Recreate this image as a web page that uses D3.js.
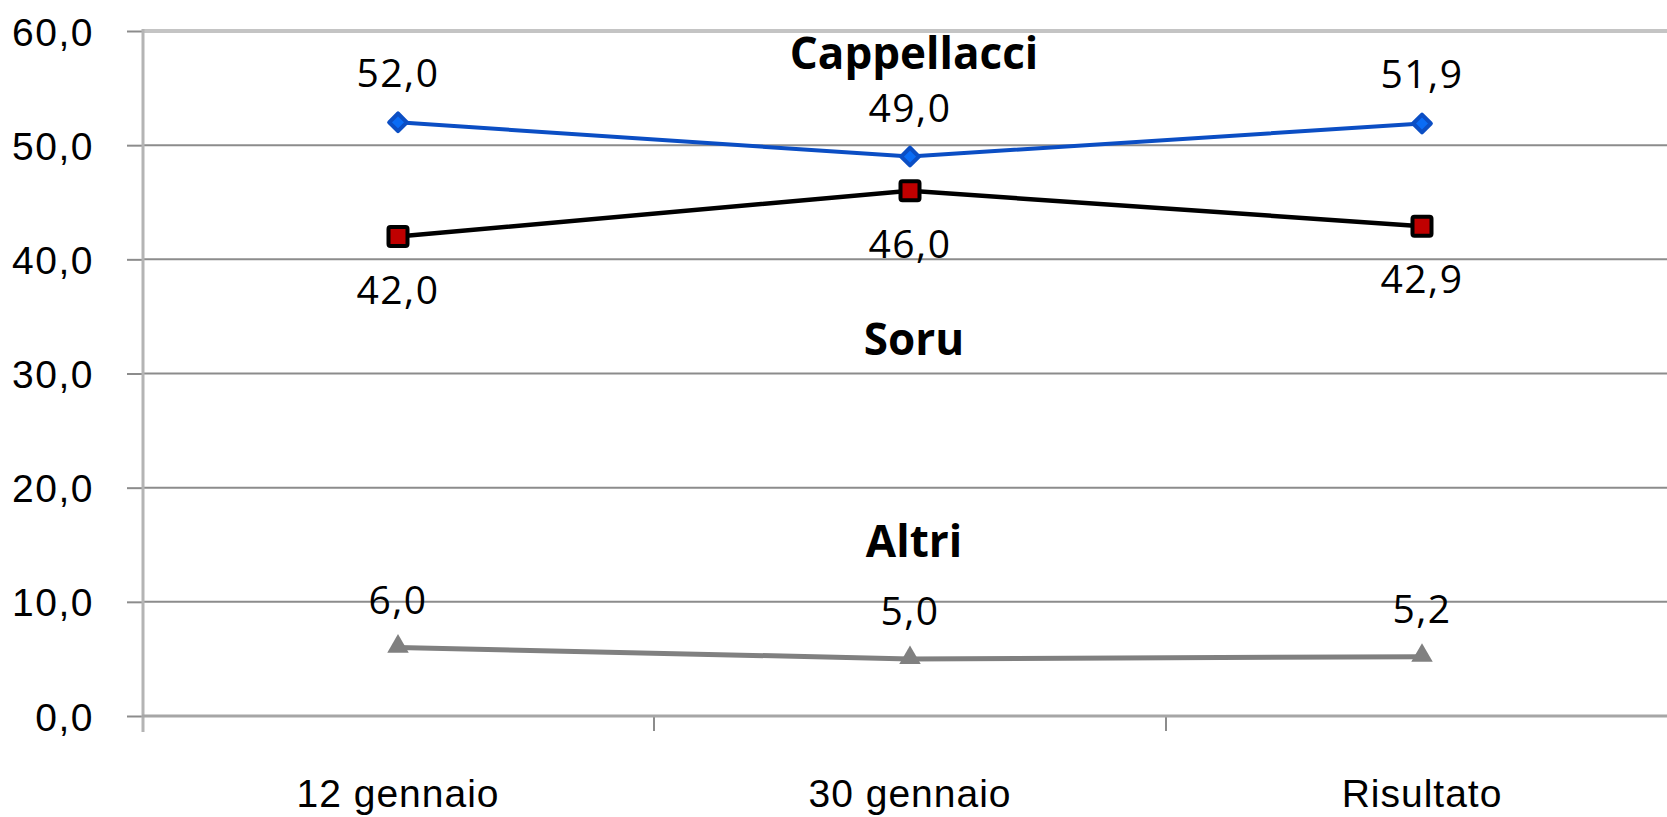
<!DOCTYPE html>
<html>
<head>
<meta charset="utf-8">
<script src="https://cdn.jsdelivr.net/npm/d3@7"></script>
<style>
  body { margin: 0; background: #fff; }
  #chart-container { width: 1667px; height: 817px; overflow: hidden; }
</style>
</head>
<body>
<div id="chart-container"></div>
<script>
// data
const categories = ["12 gennaio", "30 gennaio", "Risultato"];
const cappellacci = [52.0, 49.0, 51.9];
const soru = [42.0, 46.0, 42.9];
const altri = [6.0, 5.0, 5.2];
const yTicks = [0, 10, 20, 30, 40, 50, 60];
const seriesNames = ["Cappellacci", "Soru", "Altri"];
const nameLevels = [56.7, 31.6, 13.9]; // where the series name sits, in axis units

const W = 1667, H = 817;
const fmt = v => d3.format(".1f")(v).replace(".", ",");

const svg = d3.select("#chart-container")
  .append("svg")
  .attr("width", W)
  .attr("height", H)
  .style("font-family", "'Open Sans', sans-serif");

// plot area runs past the right edge, like the original
const xScale = d3.scaleBand()
  .domain(categories)
  .range([142, 1678])
  .padding(0);

const yScale = d3.scaleLinear().domain([0, 60]).range([716, 31]);

const cx = d => xScale(d) + xScale.bandwidth() / 2;

// gridlines
svg.append("g")
  .selectAll("line")
  .data(yTicks.filter(t => t > 0))
  .join("line")
  .attr("x1", 142)
  .attr("x2", W)
  .attr("y1", d => yScale(d))
  .attr("y2", d => yScale(d))
  .attr("stroke", d => d == 60 ? "#c4c4c4" : "#8c8c8c")
  .attr("stroke-width", d => d == 60 ? 4 : 2);

// y axis
const yAxis = d3.axisLeft(yScale).tickValues(yTicks).tickSize(15).tickPadding(33).tickFormat(fmt);
const gy = svg.append("g").attr("transform", "translate(142,0)").call(yAxis);
gy.select(".domain").remove();
gy.selectAll(".tick line").attr("stroke", "#8c8c8c").attr("stroke-width", 2);
gy.selectAll(".tick text")
  .style("font-size", "39px")
  .style("letter-spacing", "1.5px")
  .attr("dy", "0.36em")
  .attr("fill", "#000");
svg.append("line")
  .attr("x1", 143).attr("x2", 143)
  .attr("y1", 29).attr("y2", 732)
  .attr("stroke", "#b4b4b4")
  .attr("stroke-width", 3);

// x axis
const xAxis = d3.axisBottom(xScale).tickSize(0);
const gx = svg.append("g").attr("transform", "translate(0,716)").call(xAxis);
gx.select(".domain").remove();
gx.selectAll(".tick text")
  .attr("y", 91)
  .attr("dy", 0)
  .style("font-size", "39px")
  .style("letter-spacing", "1px")
  .attr("fill", "#000");

// category boundary ticks
svg.append("g")
  .selectAll("line")
  .data(categories.slice(1))
  .join("line")
  .attr("x1", d => xScale(d))
  .attr("x2", d => xScale(d))
  .attr("y1", 716)
  .attr("y2", 731)
  .attr("stroke", "#8c8c8c")
  .attr("stroke-width", 2);

svg.append("line")
  .attr("x1", 142).attr("x2", W)
  .attr("y1", 716).attr("y2", 716)
  .attr("stroke", "#a6a6a6")
  .attr("stroke-width", 3);

const line = d3.line()
  .x((d, i) => cx(categories[i]))
  .y(d => yScale(d));

// Cappellacci
svg.append("path")
  .datum(cappellacci)
  .attr("d", line)
  .attr("fill", "none")
  .attr("stroke", "#0b4ec4")
  .attr("stroke-width", 4);

svg.append("g")
  .selectAll("path")
  .data(cappellacci)
  .join("path")
  .attr("d", d3.symbol(d3.symbolDiamond2, 200))
  .attr("transform", (d, i) => `translate(${cx(categories[i])},${yScale(d)})`)
  .attr("fill", "#0a6cf5")
  .attr("stroke", "#0b4ec4")
  .attr("stroke-width", 4)
  .attr("stroke-linejoin", "round");

// Soru
svg.append("path")
  .datum(soru)
  .attr("d", line)
  .attr("fill", "none")
  .attr("stroke", "#000")
  .attr("stroke-width", 4.5);

svg.append("g")
  .selectAll("rect")
  .data(soru)
  .join("rect")
  .attr("x", (d, i) => cx(categories[i]) - 9.5)
  .attr("y", d => yScale(d) - 9.5)
  .attr("width", 19)
  .attr("height", 19)
  .attr("rx", 2)
  .attr("fill", "#c00000")
  .attr("stroke", "#000")
  .attr("stroke-width", 4);

// Altri
svg.append("path")
  .datum(altri)
  .attr("d", line)
  .attr("fill", "none")
  .attr("stroke", "#808080")
  .attr("stroke-width", 5);

svg.append("g")
  .selectAll("path")
  .data(altri)
  .join("path")
  .attr("d", d3.symbol(d3.symbolTriangle, 200))
  .attr("transform", (d, i) => `translate(${cx(categories[i])},${yScale(d) - 1})`)
  .attr("fill", "#808080");

// value labels
function valueLabels(data, dy) {
  svg.append("g")
    .selectAll("text")
    .data(data)
    .join("text")
    .attr("x", (d, i) => cx(categories[i]))
    .attr("y", d => yScale(d) + dy)
    .attr("text-anchor", "middle")
    .style("font-size", "39px")
    .style("letter-spacing", "1.5px")
    .attr("fill", "#000")
    .text(fmt);
}
valueLabels(cappellacci, -35);
valueLabels(soru, 67);
valueLabels(altri, -34);

// series names
svg.append("g")
  .selectAll("text")
  .data(seriesNames)
  .join("text")
  .attr("x", cx(categories[1]) + 4)
  .attr("y", (d, i) => yScale(nameLevels[i]))
  .attr("text-anchor", "middle")
  .style("font-size", "44px")
  .style("font-weight", "bold")
  .attr("fill", "#000")
  .text(d => d);
</script>
</body>
</html>
